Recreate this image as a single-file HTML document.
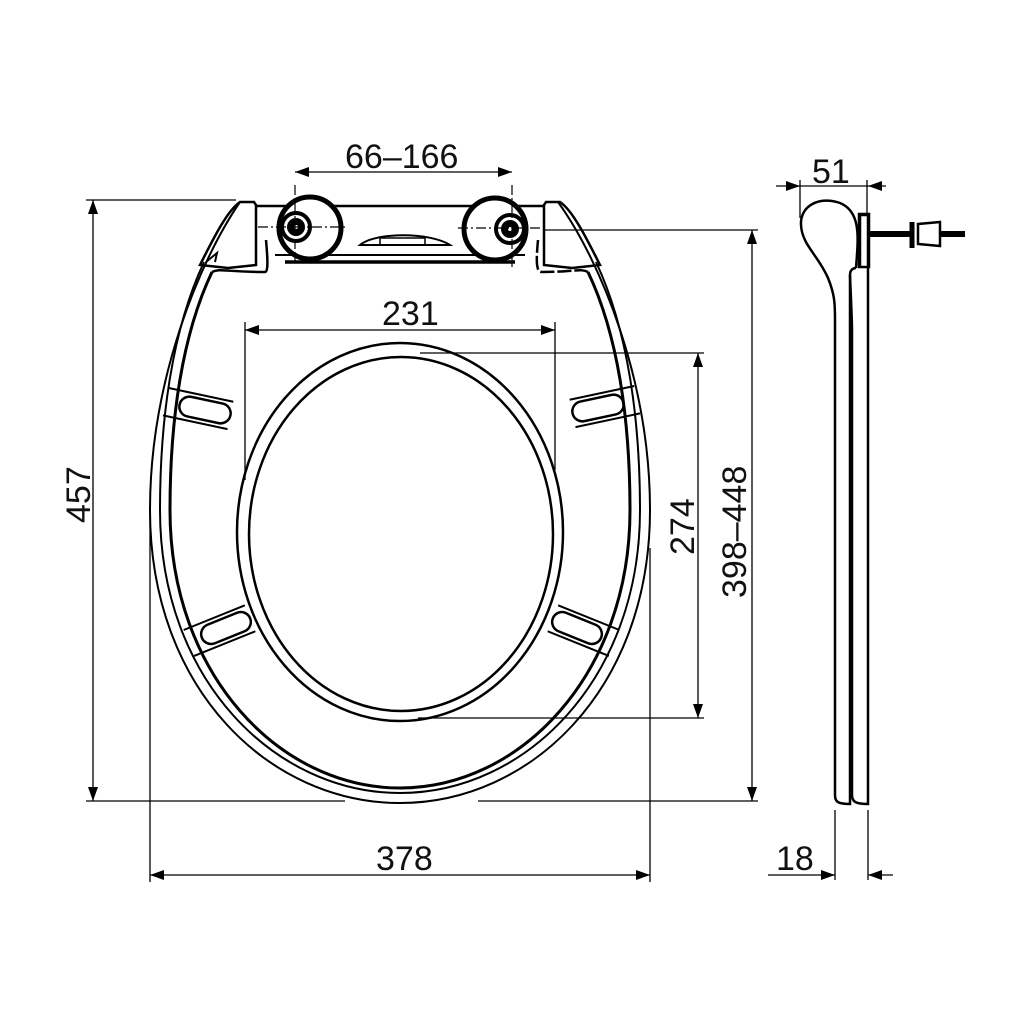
<!DOCTYPE html>
<html><head><meta charset="utf-8"><style>
html,body{margin:0;padding:0;background:#fff;}
svg{display:block;}
text{font-family:"Liberation Sans",sans-serif;font-size:34px;fill:#111;}
</style></head><body>
<svg width="1024" height="1024" viewBox="0 0 1024 1024" xmlns="http://www.w3.org/2000/svg">
<defs>
<marker id="a" markerWidth="14" markerHeight="10" refX="14" refY="5" orient="auto-start-reverse" markerUnits="userSpaceOnUse">
<path d="M0,0 L14,5 L0,10 Z" fill="#000"/></marker>
</defs>
<g fill="none" stroke="#000">
<!-- seat outer contours -->
<path d="M240,202 C200,260 150,380 150,510 C150,690 270,803 400,803 C530,803 650,690 650,510 C650,380 600,260 558,202" stroke-width="2"/>
<path d="M204,262 C172,330 160,420 160,510 C160,680 275,793 400,793 C525,793 640,680 640,510 C640,420 628,330 596,262" stroke-width="2"/>
<path d="M212,272 C182,335 170,420 170,510 C170,675 280,788 400,788 C520,788 630,675 630,510 C630,420 618,335 588,272" stroke-width="3"/>
<!-- top corners left -->
<path d="M200,265 C215,235 228,210 240,202 L254,202 L256,205 L256,265 L228,268 Z" stroke-width="2.5"/>
<path d="M206,262 L217,253 L215,262" stroke-width="2"/>
<path d="M212,272 C220,268 225,272 265,272 C268,272 268,262 266,240" stroke-width="2.5"/>
<!-- top corners right -->
<path d="M600,265 C585,235 572,210 560,202 L546,202 L544,205 L544,265 L572,268 Z" stroke-width="2.5"/>
<path d="M588,272 C580,268 575,272 542,272 C536,272 536,262 538,240" stroke-width="2.5" stroke-dasharray="14 3"/>
<!-- hinge plate -->
<path d="M256,206 L545,206" stroke-width="2.5"/>
<path d="M275,255 L525,255" stroke-width="2"/>
<path d="M285,262 L515,262" stroke-width="3.5"/>
<path d="M360,245 C375,232 430,232 450,245 Z" stroke-width="2"/>
<rect x="380" y="238" width="45" height="7" stroke-width="1.5"/>
<circle cx="310" cy="228" r="31" stroke-width="5" fill="#fff"/>
<circle cx="495" cy="229" r="31" stroke-width="5" fill="#fff"/>
<circle cx="296" cy="227" r="14" stroke-width="4" fill="#fff"/>
<circle cx="510" cy="229" r="14" stroke-width="4" fill="#fff"/>
<circle cx="296" cy="227" r="9" fill="#000" stroke="none"/>
<circle cx="510" cy="229" r="9" fill="#000" stroke="none"/>
<circle cx="296" cy="227" r="2" fill="#fff" stroke="none"/>
<circle cx="510" cy="229" r="2" fill="#fff" stroke="none"/>
<path d="M258,227 L345,227 M458,228 L545,228 M295,185 L295,262 M512,185 L512,268" stroke-width="1.2" stroke-dasharray="10 3 2 3"/>
<!-- opening -->
<ellipse cx="400" cy="532" rx="163" ry="189" stroke-width="2.5"/>
<ellipse cx="401" cy="534" rx="152" ry="177" stroke-width="2.5"/>
<!-- slots -->
<g transform="translate(205,410) rotate(12)"><rect x="-26" y="-10" width="52" height="20" rx="10" stroke-width="2.5"/><path d="M-40,-14 L26,-14 M-40,14 L26,14" stroke-width="2"/></g>
<g transform="translate(598,408) rotate(-12)"><rect x="-26" y="-10" width="52" height="20" rx="10" stroke-width="2.5"/><path d="M-26,-14 L40,-14 M-26,14 L40,14" stroke-width="2"/></g>
<g transform="translate(226,628) rotate(-22)"><rect x="-26" y="-10" width="52" height="20" rx="10" stroke-width="2.5"/><path d="M-40,-14 L26,-14 M-40,14 L26,14" stroke-width="2"/></g>
<g transform="translate(577,628) rotate(22)"><rect x="-26" y="-10" width="52" height="20" rx="10" stroke-width="2.5"/><path d="M-26,-14 L40,-14 M-26,14 L40,14" stroke-width="2"/></g>
<!-- dimension lines -->
<g stroke-width="1.3">
<line x1="295" y1="172" x2="512" y2="172" marker-start="url(#a)" marker-end="url(#a)"/>
<line x1="245" y1="330" x2="555" y2="330" marker-start="url(#a)" marker-end="url(#a)"/>
<line x1="245" y1="322" x2="245" y2="480"/><line x1="555" y1="322" x2="555" y2="470"/>
<line x1="93" y1="200" x2="93" y2="801" marker-start="url(#a)" marker-end="url(#a)"/>
<line x1="86" y1="200" x2="236" y2="200"/>
<line x1="86" y1="801" x2="345" y2="801"/><line x1="478" y1="801" x2="758" y2="801"/>
<line x1="752" y1="230" x2="752" y2="801" marker-start="url(#a)" marker-end="url(#a)"/>
<line x1="545" y1="230" x2="758" y2="230"/>
<line x1="698" y1="353" x2="698" y2="718" marker-start="url(#a)" marker-end="url(#a)"/>
<line x1="420" y1="353" x2="704" y2="353"/><line x1="418" y1="718" x2="704" y2="718"/>
<line x1="150" y1="875" x2="650" y2="875" marker-start="url(#a)" marker-end="url(#a)"/>
<line x1="150" y1="515" x2="150" y2="882"/><line x1="650" y1="548" x2="650" y2="882"/>
<line x1="768" y1="875" x2="835" y2="875" marker-end="url(#a)"/>
<line x1="893" y1="875" x2="868" y2="875" marker-end="url(#a)"/>
<line x1="835" y1="810" x2="835" y2="880"/><line x1="868" y1="810" x2="868" y2="880"/>
<line x1="776" y1="186" x2="800" y2="186" marker-end="url(#a)"/>
<line x1="886" y1="186" x2="868" y2="186" marker-end="url(#a)"/>
<line x1="800" y1="186" x2="868" y2="186"/>
<line x1="800" y1="180" x2="800" y2="218"/><line x1="867" y1="180" x2="867" y2="215"/>
</g>
<!-- side profile -->
<path d="M856,268 C858,240 862,212 840,203 C820,196 800,205 801,225 C802,245 818,255 828,278 C835,295 835,305 835,320 L835,795 C835,802 838,804 850,804 L850,275 C850,270 853,268 856,268" stroke-width="2.5"/>
<path d="M850,275 C851,300 852,320 852,330 L852,795 C852,802 856,804 868,804 L868,215 L860,215 L860,268" stroke-width="2.5"/>
<rect x="859" y="214" width="10" height="53" stroke-width="2.5"/>
<path d="M869,234 L910,234" stroke-width="6"/>
<path d="M912,222 L912,248" stroke-width="5"/>
<path d="M918,224 L940,222 L940,246 L918,244 Z" stroke-width="2.5"/>
<path d="M940,234 L965,234" stroke-width="6"/>
</g>
<text x="345" y="168">66–166</text>
<text x="382" y="325">231</text>
<text x="376" y="870">378</text>
<text x="776" y="870">18</text>
<text x="812" y="183">51</text>
<text transform="translate(90,523) rotate(-90)">457</text>
<text transform="translate(694,555) rotate(-90)">274</text>
<text transform="translate(746,598) rotate(-90)">398–448</text>
</svg>
</body></html>
